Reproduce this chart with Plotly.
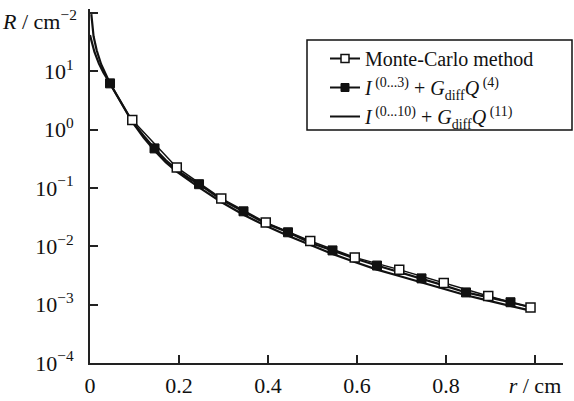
import plotly.graph_objects as go

# ---- data ----
# Monte-Carlo method (open squares)
r_mc = [0.095, 0.195, 0.295, 0.395, 0.495, 0.595, 0.695, 0.795, 0.895, 0.99]
R_mc = [1.46, 0.225, 0.066, 0.0257, 0.0123, 0.00646, 0.00398, 0.00234, 0.00141, 0.00089]

# I^(0...3) + G_diff Q^(4)  (filled squares)
r_f_mark = [0.045, 0.145, 0.245, 0.345, 0.445, 0.545, 0.645, 0.745, 0.845, 0.945]
R_f_mark = [6.2, 0.476, 0.116, 0.0398, 0.0174, 0.0085, 0.00468, 0.00282, 0.00162, 0.0011]
r_f_line = [0, 0.005, 0.01, 0.02, 0.03, 0.045, 0.07, 0.095, 0.12, 0.145, 0.17, 0.195,
            0.22, 0.245, 0.295, 0.345, 0.395, 0.445, 0.495, 0.545, 0.595, 0.645,
            0.695, 0.745, 0.795, 0.845, 0.895, 0.945, 0.99]
R_f_line = [41.7, 28.2, 21.4, 13.5, 9.55, 6.17, 2.88, 1.38, 0.794, 0.476, 0.302, 0.204,
            0.151, 0.116, 0.0631, 0.0398, 0.0245, 0.0174, 0.0115, 0.0085, 0.00617, 0.00468,
            0.00363, 0.00282, 0.00214, 0.00162, 0.00135, 0.0011, 0.00091]

# I^(0...10) + G_diff Q^(11)  (plain line)
r_l = [0.003, 0.005, 0.008, 0.015, 0.025, 0.045, 0.07, 0.095, 0.12, 0.145, 0.17, 0.195,
       0.245, 0.295, 0.345, 0.395, 0.445, 0.495, 0.545, 0.595, 0.645, 0.695, 0.745,
       0.795, 0.845, 0.895, 0.945, 0.99]
R_l = [95.0, 63.0, 39.8, 22.9, 13.2, 6.17, 2.82, 1.35, 0.741, 0.437, 0.275, 0.191,
       0.102, 0.0575, 0.0347, 0.0224, 0.0151, 0.0105, 0.00741, 0.00537, 0.00398, 0.00309,
       0.0024, 0.00186, 0.00145, 0.00117, 0.00095, 0.00079]

x_tickvals = [0, 0.2, 0.4, 0.6, 0.8, 1.0]
x_ticktext = ["0", "0.2", "0.4", "0.6", "0.8", "<i>r</i> / cm"]
y_tickvals = [1e-4, 1e-3, 1e-2, 1e-1, 1e0, 1e1, 1e2]
y_ticktext = ["10<sup>−4</sup>", "10<sup>−3</sup>", "10<sup>−2</sup>", "10<sup>−1</sup>",
              "10<sup>0</sup>", "10<sup>1</sup>", ""]

names = ["Monte-Carlo method",
         "<i>I</i><sup> (0...3)</sup> + <i>G</i><sub>diff</sub><i>Q</i><sup> (4)</sup>",
         "<i>I</i><sup> (0...10)</sup> + <i>G</i><sub>diff</sub><i>Q</i><sup> (11)</sup>"]

BLACK = "#111111"
FONT = "Liberation Serif, Times New Roman, DejaVu Serif, serif"
FS = 22

fig = go.Figure()

# curves (no legend)
fig.add_trace(go.Scatter(x=r_l, y=R_l, mode="lines", line=dict(color=BLACK, width=2.2),
                         showlegend=False, hoverinfo="skip"))
fig.add_trace(go.Scatter(x=r_f_line, y=R_f_line, mode="lines", line=dict(color=BLACK, width=2.2),
                         showlegend=False, hoverinfo="skip"))
fig.add_trace(go.Scatter(x=r_mc, y=R_mc, mode="lines", line=dict(color=BLACK, width=1.5),
                         showlegend=False, hoverinfo="skip"))
# markers
fig.add_trace(go.Scatter(x=r_f_mark, y=R_f_mark, mode="markers",
                         marker=dict(symbol="square", size=9, color=BLACK,
                                     line=dict(color=BLACK, width=1)),
                         showlegend=False))
fig.add_trace(go.Scatter(x=r_mc, y=R_mc, mode="markers",
                         marker=dict(symbol="square", size=9, color="white",
                                     line=dict(color=BLACK, width=1.5)),
                         showlegend=False))

# legend entries
fig.add_trace(go.Scatter(x=[None], y=[None], mode="lines+markers", name=names[0],
                         line=dict(color=BLACK, width=2),
                         marker=dict(symbol="square", size=8, color="white",
                                     line=dict(color=BLACK, width=1.5))))
fig.add_trace(go.Scatter(x=[None], y=[None], mode="lines+markers", name=names[1],
                         line=dict(color=BLACK, width=2),
                         marker=dict(symbol="square", size=8, color=BLACK,
                                     line=dict(color=BLACK, width=1))))
fig.add_trace(go.Scatter(x=[None], y=[None], mode="lines", name=names[2],
                         line=dict(color=BLACK, width=2)))

W, H = 574, 401
ml, mr, mt, mb = 90, 11, 9, 38
pw, ph = W - ml - mr, H - mt - mb


def px2paper_x(px):
    return (px - ml) / pw


def px2paper_y(py):
    return 1 - (py - mt) / ph


fig.update_layout(
    width=W, height=H,
    margin=dict(l=ml, r=mr, t=mt, b=mb, autoexpand=False),
    paper_bgcolor="white", plot_bgcolor="white",
    font=dict(family=FONT, size=FS, color=BLACK),
    showlegend=True,
    legend=dict(x=px2paper_x(325), y=px2paper_y(39), xanchor="left", yanchor="top",
                bgcolor="rgba(0,0,0,0)", borderwidth=0, tracegroupgap=0,
                font=dict(family=FONT, size=20, color=BLACK)),
    xaxis=dict(range=[0, 1.063], tickmode="array", tickvals=x_tickvals, ticktext=x_ticktext,
               ticks="inside", ticklen=8, tickwidth=2, tickcolor="#222", automargin=False,
               showline=True, linewidth=2, linecolor="#222", showgrid=False, zeroline=False,
               ticklabelstandoff=2, tickfont=dict(family=FONT, size=FS)),
    yaxis=dict(type="log", range=[-4, 2.067], tickmode="array", tickvals=y_tickvals,
               ticktext=y_ticktext, ticks="inside", ticklen=8, tickwidth=2, tickcolor="#222",
               automargin=False,
               showline=True, linewidth=2, linecolor="#222", showgrid=False, zeroline=False,
               ticklabelstandoff=10, tickfont=dict(family=FONT, size=FS)),
    shapes=[dict(type="rect", xref="paper", yref="paper",
                 x0=px2paper_x(307), x1=px2paper_x(572),
                 y0=px2paper_y(130), y1=px2paper_y(40),
                 line=dict(color=BLACK, width=1.5), fillcolor="rgba(0,0,0,0)")],
    annotations=[dict(text="<i>R</i> / cm<sup>−2</sup>", xref="paper", yref="paper",
                      x=px2paper_x(79), y=px2paper_y(20), xanchor="right", yanchor="middle",
                      showarrow=False, font=dict(family=FONT, size=FS, color=BLACK))],
)

fig.write_html("out.html")
